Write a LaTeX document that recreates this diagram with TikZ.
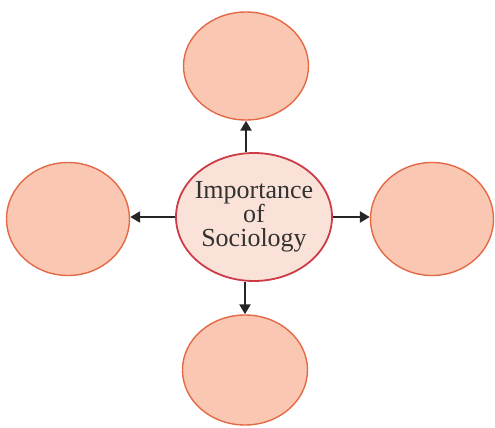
\documentclass[tikz,border=0pt]{standalone}
\usepackage{fontspec}
\setmainfont{Liberation Serif}
\usetikzlibrary{shapes.geometric,arrows.meta}
\definecolor{fillc}{RGB}{250,200,178}
\definecolor{edgec}{RGB}{228,105,70}
\definecolor{cfill}{RGB}{251,226,216}
\definecolor{cedge}{RGB}{205,60,70}
\definecolor{txt}{RGB}{50,50,50}
\tikzset{
  outer/.style={ellipse, draw=edgec, fill=fillc, line width=1.4pt, inner sep=0pt},
  hub/.style={ellipse, draw=cedge, fill=cfill, line width=1.8pt, inner xsep=-10pt, inner ysep=0pt, align=center, text=txt,
    font=\fontsize{26}{24}\selectfont},
  link/.style={-{Triangle[length=10pt,width=11pt]}, line width=2.4pt, black!85}
}
\begin{document}
\begin{tikzpicture}[x=1pt,y=1pt]
\useasboundingbox (0,0) rectangle (495,428);
\node[hub, minimum width=156pt, minimum height=128pt] (c) at (254,211) {Importance\\of\\Sociology};
\node[outer, minimum width=125pt, minimum height=108pt] (t) at (246,362) {};
\node[outer, minimum width=123pt, minimum height=113pt] (l) at (68,209) {};
\node[outer, minimum width=123pt, minimum height=113pt] (r) at (432,209) {};
\node[outer, minimum width=125pt, minimum height=110pt] (b) at (245,58) {};
\draw[link] (c.north -| t) -- (t.south);
\draw[link] (c.west) -- (l.east |- c.west);
\draw[link] (c.east) -- (r.west |- c.east);
\draw[link] (c.south -| b) -- (b.north);
\end{tikzpicture}
\end{document}
